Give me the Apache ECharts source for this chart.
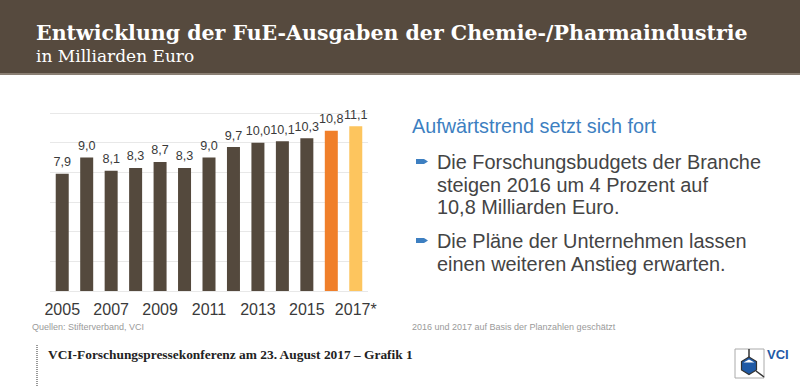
<!DOCTYPE html>
<html><head><meta charset="utf-8">
<script src="https://cdn.jsdelivr.net/npm/echarts@6/dist/echarts.min.js"></script>
<style>html,body{margin:0;padding:0;background:#fff}#c{width:800px;height:386px}</style>
</head><body><div id="c"></div>
<script>
const years = ['2005','2006','2007','2008','2009','2010','2011','2012','2013','2014','2015','2016','2017*'];
const values = [7.9, 9.0, 8.1, 8.3, 8.7, 8.3, 9.0, 9.7, 10.0, 10.1, 10.3, 10.8, 11.1];
const barColors = ['#54493d','#54493d','#54493d','#54493d','#54493d','#54493d','#54493d','#54493d','#54493d','#54493d','#54493d','#f07f2a','#fdc55e'];
const yTicks = [0, 2, 4, 6, 8, 10, 12];

const chart = echarts.init(document.getElementById('c'), null, {renderer: 'svg'});
const serif = '"DejaVu Serif", "Liberation Serif", serif';
const sans = '"Liberation Sans", Arial, sans-serif';
chart.setOption({
  animation: false,
  grid: {left: 50, right: 432, top: 113, bottom: 95},
  xAxis: {
    type: 'category', data: years,
    axisLine: {show: false}, axisTick: {show: false},
    axisLabel: {interval: 1, color: '#3a3a3a', fontSize: 16, fontFamily: sans, margin: 10}
  },
  yAxis: {
    type: 'value', min: yTicks[0], max: yTicks[yTicks.length-1], interval: 2,
    axisLabel: {show: false}, axisLine: {show: false}, axisTick: {show: false},
    splitLine: {lineStyle: {color: '#e8e8e8', width: 1}}
  },
  series: [{
    type: 'bar', barWidth: 13,
    data: values.map((v, i) => ({value: v, itemStyle: {color: barColors[i]}})),
    label: {show: true, position: 'top', distance: 5, color: '#3a3a3a', fontSize: 12.6, fontFamily: sans,
      formatter: p => p.value.toFixed(1).replace('.', ',')}
  }],
  graphic: [
    {type: 'rect', shape: {x: 0, y: 0, width: 800, height: 73}, style: {fill: '#564a3e'}},
    {type: 'rect', shape: {x: 0, y: 73, width: 800, height: 2}, style: {fill: '#8a7f73'}},
    {type: 'text', left: 36, top: 22, style: {text: 'Entwicklung der FuE-Ausgaben der Chemie-/Pharmaindustrie', fill: '#fff', font: 'bold 20.5px ' + serif}},
    {type: 'text', left: 36, top: 47, style: {text: 'in Milliarden Euro', fill: '#fff', font: '17px ' + serif}},
    {type: 'text', left: 412, top: 116, style: {text: 'Aufwärtstrend setzt sich fort', fill: '#3d7fc1', font: '19.8px ' + sans}},
    {type: 'polygon', shape: {points: [[416,159],[424,159],[428,161.5],[424,164],[416,164]]}, style: {fill: '#3d7fc1'}},
    {type: 'text', left: 437, top: 151, style: {text: 'Die Forschungsbudgets der Branche\nsteigen 2016 um 4 Prozent auf\n10,8 Milliarden Euro.', fill: '#444', font: '19.9px ' + sans, lineHeight: 22.5}},
    {type: 'polygon', shape: {points: [[416,238],[424,238],[428,240.5],[424,243],[416,243]]}, style: {fill: '#3d7fc1'}},
    {type: 'text', left: 437, top: 230, style: {text: 'Die Pläne der Unternehmen lassen\neinen weiteren Anstieg erwarten.', fill: '#444', font: '19.9px ' + sans, lineHeight: 22.5}},
    {type: 'text', left: 32, top: 322, style: {text: 'Quellen: Stifterverband, VCI', fill: '#9a9a9a', font: '9px ' + sans}},
    {type: 'text', left: 412, top: 322, style: {text: '2016 und 2017 auf Basis der Planzahlen geschätzt', fill: '#9a9a9a', font: '9px ' + sans}},
    {type: 'line', shape: {x1: 37, y1: 345, x2: 37, y2: 386}, style: {stroke: '#999', lineWidth: 2, lineDash: [1, 1]}},
    {type: 'text', left: 48, top: 348, style: {text: 'VCI-Forschungspressekonferenz am 23. August 2017 – Grafik 1', fill: '#222', font: 'bold 13.4px "Liberation Serif", serif'}},
    {type: 'rect', shape: {x: 735, y: 349, width: 29, height: 29}, style: {fill: '#fff', stroke: '#aaa', lineWidth: 1}},
    {type: 'line', shape: {x1: 749, y1: 349, x2: 749, y2: 357}, style: {stroke: '#333', lineWidth: 1.5}},
    {type: 'line', shape: {x1: 756, y1: 371, x2: 764, y2: 377}, style: {stroke: '#333', lineWidth: 1.5}},
    {type: 'polygon', shape: {points: [[749,357],[756.5,361.5],[756.5,370],[749,374.5],[741.5,370],[741.5,361.5]]}, style: {fill: '#1f5aa6', stroke: '#333', lineWidth: 1.2}},
    {type: 'polygon', shape: {points: [[749,359.5],[754.5,362.5],[743.5,362.5]]}, style: {fill: '#fff'}},
    {type: 'text', left: 767, top: 348, style: {text: 'VCI', fill: '#1f5aa6', font: 'bold 13px ' + sans}}
  ]
});
</script></body></html>
